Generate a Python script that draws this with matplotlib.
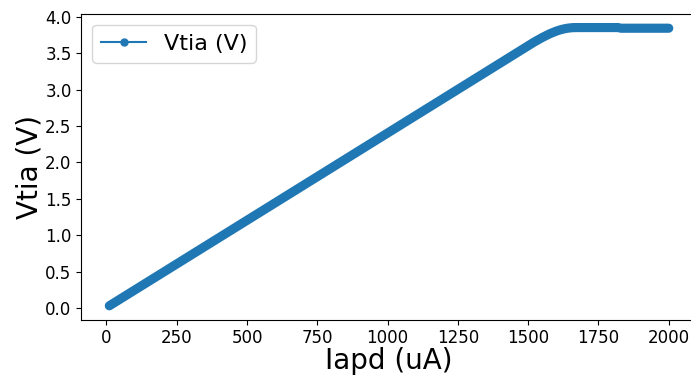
import numpy as np
import matplotlib
matplotlib.use("Agg")
import matplotlib.pyplot as plt

# photodiode current sweep (uA), 10 uA steps
iapd = list(range(10, 2001, 10))

# TIA output voltage (V) read at each current step
vtia = [
    0.030, 0.054, 0.078, 0.102, 0.126, 0.150, 0.174, 0.198, 0.222, 0.246,
    0.270, 0.294, 0.318, 0.342, 0.366, 0.390, 0.414, 0.438, 0.462, 0.486,
    0.510, 0.534, 0.558, 0.582, 0.606, 0.630, 0.654, 0.678, 0.702, 0.726,
    0.750, 0.774, 0.798, 0.822, 0.846, 0.870, 0.894, 0.918, 0.942, 0.966,
    0.990, 1.014, 1.038, 1.062, 1.086, 1.110, 1.134, 1.158, 1.182, 1.206,
    1.230, 1.254, 1.278, 1.302, 1.326, 1.350, 1.374, 1.398, 1.422, 1.446,
    1.470, 1.494, 1.518, 1.542, 1.566, 1.590, 1.614, 1.638, 1.662, 1.686,
    1.710, 1.734, 1.758, 1.782, 1.806, 1.830, 1.854, 1.878, 1.902, 1.926,
    1.950, 1.974, 1.998, 2.022, 2.046, 2.070, 2.094, 2.118, 2.142, 2.166,
    2.190, 2.214, 2.238, 2.262, 2.286, 2.310, 2.334, 2.358, 2.382, 2.406,
    2.430, 2.454, 2.478, 2.502, 2.526, 2.550, 2.574, 2.598, 2.622, 2.646,
    2.670, 2.694, 2.718, 2.742, 2.766, 2.790, 2.814, 2.838, 2.862, 2.886,
    2.910, 2.934, 2.958, 2.982, 3.006, 3.030, 3.054, 3.078, 3.102, 3.126,
    3.150, 3.174, 3.198, 3.222, 3.246, 3.270, 3.294, 3.318, 3.342, 3.366,
    3.390, 3.414, 3.438, 3.462, 3.486, 3.510, 3.534, 3.558, 3.582, 3.606,
    3.630, 3.653, 3.675, 3.697, 3.718, 3.738, 3.757, 3.775, 3.791, 3.806,
    3.819, 3.830, 3.839, 3.846, 3.851, 3.854, 3.855, 3.855, 3.855, 3.855,
    3.855, 3.855, 3.855, 3.855, 3.855, 3.855, 3.855, 3.855, 3.855, 3.855,
    3.855, 3.855, 3.846, 3.846, 3.846, 3.846, 3.846, 3.846, 3.846, 3.846,
    3.846, 3.846, 3.846, 3.846, 3.846, 3.846, 3.846, 3.846, 3.846, 3.846,
]

blue = '#1f77b4'

fig = plt.figure(figsize=(6.91, 3.76), dpi=100)
ax = fig.add_axes([0.1177, 0.1497, 0.8906, 0.814])

# the sweep is sampled so densely that the markers merge into one thick band
ax.plot(iapd, vtia, color=blue, lw=6.6,
        solid_capstyle='round', solid_joinstyle='round')
# legend handle: ordinary line with a dot marker
ax.plot([], [], marker='o', markersize=5, color=blue, label='Vtia (V)')

ax.set_xlabel('Iapd (uA)', fontsize=20, labelpad=0)
ax.set_ylabel('Vtia (V)', fontsize=20, labelpad=1)
ax.tick_params(labelsize=12)
ax.legend(loc='upper left', fontsize=16)

fig.savefig('out.png', dpi=100)
